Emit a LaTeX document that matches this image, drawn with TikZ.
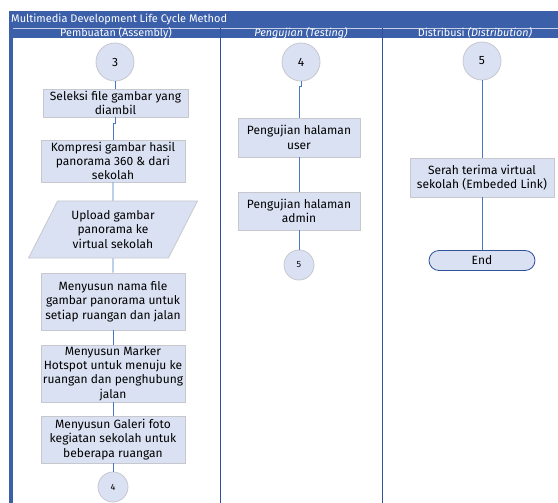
\documentclass[tikz,border=0pt]{standalone}
\usepackage{fontspec}
\setmainfont{Fira Sans}
\usepackage{tikz}
\usepackage{xcolor}
\usetikzlibrary{positioning, shapes.geometric, shapes.misc}
\definecolor{lanebar}{RGB}{59, 95, 168}
\definecolor{laneline}{RGB}{47, 82, 155}
\definecolor{stepfill}{RGB}{218, 225, 242}
\definecolor{stepline}{RGB}{198, 200, 206}
\definecolor{linkblue}{RGB}{72, 118, 200}
\tikzset{
    stepbox/.style={rectangle, draw=stepline, fill=stepfill, thick, align=center, inner sep=1pt, font=\fontsize{12}{14.3}\selectfont},
    iobox/.style={trapezium, trapezium left angle=63, trapezium right angle=117, draw=stepline, fill=stepfill, thick, align=center, inner ysep=1pt, inner xsep=-3pt, font=\fontsize{12}{14.3}\selectfont},
    bigjoint/.style={circle, draw=stepline, fill=stepfill, thick, minimum size=38pt, inner sep=0pt, font=\fontsize{12}{13}\selectfont},
    smalljoint/.style={circle, draw=stepline, fill=stepfill, thick, minimum size=30pt, inner sep=0pt, font=\fontsize{9}{10}\selectfont},
    endbox/.style={rounded rectangle, draw=laneline, fill=stepfill, thick, minimum width=106pt, minimum height=20pt, inner sep=0pt, font=\fontsize{12}{13}\selectfont},
    lanehead/.style={text=white, inner sep=0pt, font=\fontsize{10.8}{11}\selectfont},
    link/.style={draw=linkblue, line width=0.9pt}
}

\begin{document}
\begin{tikzpicture}[x=1pt, y=-1pt]
                \useasboundingbox (0,0) rectangle (558,503);

                % Pool and lanes
                \fill[lanebar] (9,11) rectangle (558,38);
                \fill[lanebar] (9,28) rectangle (13,503);
                \draw[white!70!lanebar, line width=0.4pt] (13,28) -- (558,28);
                \draw[laneline, line width=1pt] (220,28) -- (220,503);
                \draw[laneline, line width=1pt] (382,28) -- (382,503);
                \node[lanehead, anchor=west, font=\fontsize{11}{12}\selectfont] (pool) at (11,19.5) {Multimedia Development Life Cycle Method};
                \node[lanehead] (assembly) at (116,33) {Pembuatan (Assembly)};
                \node[lanehead] (testing) at (301,33) {\itshape Pengujian (Testing)};
                \node[lanehead] (distribution) at (475,33) {Distribusi \itshape(Distribution)};

                % Pembuatan
                \node[bigjoint] (c3) at (115,62) {3};
                \node[stepbox, minimum width=145pt, minimum height=28pt] (seleksi) at (115.5,103) {Seleksi file gambar yang\\diambil};
                \node[stepbox, minimum width=144pt, minimum height=42pt] (kompresi) at (113,161) {Kompresi gambar hasil\\panorama 360 \& dari\\sekolah};
                \node[iobox, minimum height=57pt] (upload) at (113,229.5) {Upload gambar\\panorama ke\\virtual sekolah};
                \node[stepbox, minimum width=144pt, minimum height=57pt] (nama) at (113,301.5) {Menyusun nama file\\gambar panorama untuk\\setiap ruangan dan jalan};
                \node[stepbox, minimum width=144pt, minimum height=57pt] (marker) at (113,373.5) {Menyusun Marker\\Hotspot untuk menuju ke\\ruangan dan penghubung\\jalan};
                \node[stepbox, minimum width=144pt, minimum height=47pt] (galeri) at (113,439.5) {Menyusun Galeri foto\\kegiatan sekolah untuk\\beberapa ruangan};
                \node[smalljoint] (c4a) at (113,487) {4};

                % Pengujian
                \node[bigjoint] (c4) at (301,62) {4};
                \node[stepbox, minimum width=122pt, minimum height=39pt] (user) at (299,137.5) {Pengujian halaman\\user};
                \node[stepbox, minimum width=122pt, minimum height=38pt] (admin) at (299,211) {Pengujian halaman\\admin};
                \node[smalljoint] (c5a) at (299,265) {5};

                % Distribusi
                \node[bigjoint] (c5) at (482,61) {5};
                \node[stepbox, minimum width=144pt, minimum height=39pt] (serah) at (482,177.5) {Serah terima virtual\\sekolah (Embeded Link)};
                \node[endbox] (end) at (482,260.5) {End};

                % Flow
                \draw[link] (c3) -- (c3 |- seleksi.north);
                \draw[link] (seleksi.south) -- ++(0,6) -| (kompresi.north);
                \draw[link] (kompresi) -- (upload);
                \draw[link] (upload) -- (nama);
                \draw[link] (nama) -- (marker);
                \draw[link] (marker) -- (galeri);
                \draw[link] (galeri) -- (c4a);
                \draw[link] (c4.south) -- ++(0,5) -| (user.north);
                \draw[link] (user) -- (admin);
                \draw[link] (admin) -- (c5a);
                \draw[link] (c5) -- (serah);
                \draw[link] (serah) -- (end);
\end{tikzpicture}
\end{document}
